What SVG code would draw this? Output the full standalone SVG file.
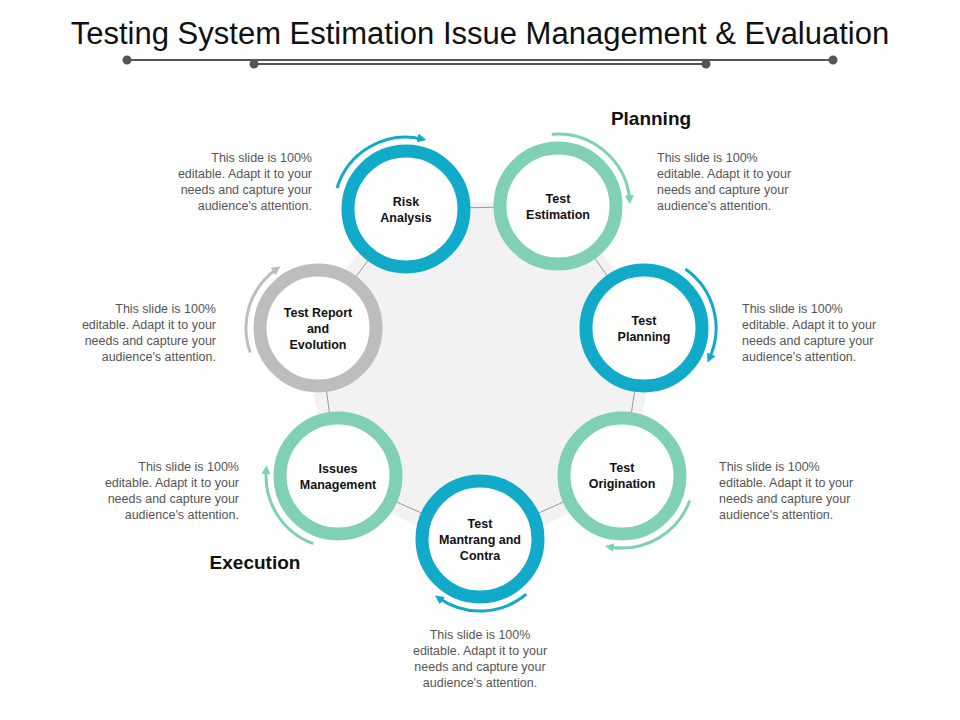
<svg xmlns="http://www.w3.org/2000/svg" width="960" height="720" viewBox="0 0 960 720">
<style>
.t{font-family:"Liberation Sans",Arial,sans-serif}
.lbl{font-family:"Liberation Sans",Arial,sans-serif;font-size:12.5px;font-weight:bold;fill:#111;text-anchor:middle}
.d{font-family:"Liberation Sans",Arial,sans-serif;font-size:12.5px;fill:#555}
.r{text-anchor:end}
.ring{fill:#fff;stroke-width:13}
.b{stroke:#12aac9}.g{stroke:#80d0b6}.y{stroke:#bdbdbd}
.arc{fill:none;stroke-width:3}
</style>
<defs>
<marker id="mb" viewBox="0 0 10 10" refX="5" refY="5" markerWidth="3" markerHeight="3" orient="auto"><path d="M0,0L10,5L0,10z" fill="#12aac9"/></marker>
<marker id="mg" viewBox="0 0 10 10" refX="5" refY="5" markerWidth="3" markerHeight="3" orient="auto"><path d="M0,0L10,5L0,10z" fill="#80d0b6"/></marker>
<marker id="my" viewBox="0 0 10 10" refX="5" refY="5" markerWidth="3" markerHeight="3" orient="auto"><path d="M0,0L10,5L0,10z" fill="#bdbdbd"/></marker>
</defs>
<rect width="960" height="720" fill="#fff"/>
<text class="t" x="480" y="44" font-size="31" text-anchor="middle" fill="#111">Testing System  Estimation Issue Management &amp; Evaluation</text>
<g stroke="#555" stroke-width="2" fill="#555">
<line x1="127" y1="60" x2="833" y2="60"/><line x1="254" y1="64" x2="706" y2="64"/>
<circle cx="127" cy="60" r="3.5"/><circle cx="833" cy="60" r="3.5"/><circle cx="254" cy="64" r="3.5"/><circle cx="706" cy="64" r="3.5"/>
</g>
<circle cx="480" cy="370" r="168" fill="#f2f2f2"/>
<g id="connectors" fill="none" stroke="#999" stroke-width="1">
<polygon points="406,209 558,206 644,328 622,476 480,539 338,476 318,328"/>
<path class="arc b" d="M337,188 A72,72 0 0 1 422,139" marker-end="url(#mb)"/>
<path class="arc g" d="M551.7,134.3 A72,72 0 0 1 629.7,199.7" marker-end="url(#mg)"/>
<path class="arc b" d="M685.3,269 A72,72 0 0 1 709.3,358.4" marker-end="url(#mb)"/>
<path class="arc g" d="M689.7,500.6 A72,72 0 0 1 609.5,546.9" marker-end="url(#mg)"/>
<path class="arc b" d="M526.3,594.2 A72,72 0 0 1 438.7,598" marker-end="url(#mb)"/>
<path class="arc g" d="M313.4,543.7 A72,72 0 0 1 266.3,469.7" marker-end="url(#mg)"/>
<path class="arc y" d="M250.3,352.6 A72,72 0 0 1 276.7,269" marker-end="url(#my)"/>
</g>
<g id="n1"><circle class="ring b" cx="406" cy="209" r="58"/><text class="lbl" x="406" y="206">Risk</text><text class="lbl" x="406" y="222">Analysis</text></g>
<g id="n2"><circle class="ring g" cx="558" cy="206" r="58"/><text class="lbl" x="558" y="203">Test</text><text class="lbl" x="558" y="219">Estimation</text></g>
<g id="n3"><circle class="ring b" cx="644" cy="328" r="58"/><text class="lbl" x="644" y="325">Test</text><text class="lbl" x="644" y="341">Planning</text></g>
<g id="n4"><circle class="ring g" cx="622" cy="476" r="58"/><text class="lbl" x="622" y="472">Test</text><text class="lbl" x="622" y="488">Origination</text></g>
<g id="n5"><circle class="ring b" cx="480" cy="539" r="58"/><text class="lbl" x="480" y="528">Test</text><text class="lbl" x="480" y="544">Mantrang and</text><text class="lbl" x="480" y="560">Contra</text></g>
<g id="n6"><circle class="ring g" cx="338" cy="476" r="58"/><text class="lbl" x="338" y="473">Issues</text><text class="lbl" x="338" y="489">Management</text></g>
<g id="n7"><circle class="ring y" cx="318" cy="328" r="58"/><text class="lbl" x="318" y="317">Test Report</text><text class="lbl" x="318" y="333">and</text><text class="lbl" x="318" y="349">Evolution</text></g>
<text class="t" x="651" y="125" font-size="19" font-weight="bold" text-anchor="middle" fill="#111">Planning</text>
<text class="t" x="255" y="569" font-size="19" font-weight="bold" text-anchor="middle" fill="#111">Execution</text>
<g class="d">
<text class="r" x="312" y="162">This slide is 100%</text><text class="r" x="312" y="178">editable. Adapt it to your</text><text class="r" x="312" y="194">needs and capture your</text><text class="r" x="312" y="210">audience's attention.</text>
<text x="657" y="162">This slide is 100%</text><text x="657" y="178">editable. Adapt it to your</text><text x="657" y="194">needs and capture your</text><text x="657" y="210">audience's attention.</text>
<text x="742" y="313">This slide is 100%</text><text x="742" y="329">editable. Adapt it to your</text><text x="742" y="345">needs and capture your</text><text x="742" y="361">audience's attention.</text>
<text x="719" y="471">This slide is 100%</text><text x="719" y="487">editable. Adapt it to your</text><text x="719" y="503">needs and capture your</text><text x="719" y="519">audience's attention.</text>
<text class="r" x="216" y="313">This slide is 100%</text><text class="r" x="216" y="329">editable. Adapt it to your</text><text class="r" x="216" y="345">needs and capture your</text><text class="r" x="216" y="361">audience's attention.</text>
<text class="r" x="239" y="471">This slide is 100%</text><text class="r" x="239" y="487">editable. Adapt it to your</text><text class="r" x="239" y="503">needs and capture your</text><text class="r" x="239" y="519">audience's attention.</text>
<text x="480" y="639" text-anchor="middle">This slide is 100%</text><text x="480" y="655" text-anchor="middle">editable. Adapt it to your</text><text x="480" y="671" text-anchor="middle">needs and capture your</text><text x="480" y="687" text-anchor="middle">audience's attention.</text>
</g>
</svg>
